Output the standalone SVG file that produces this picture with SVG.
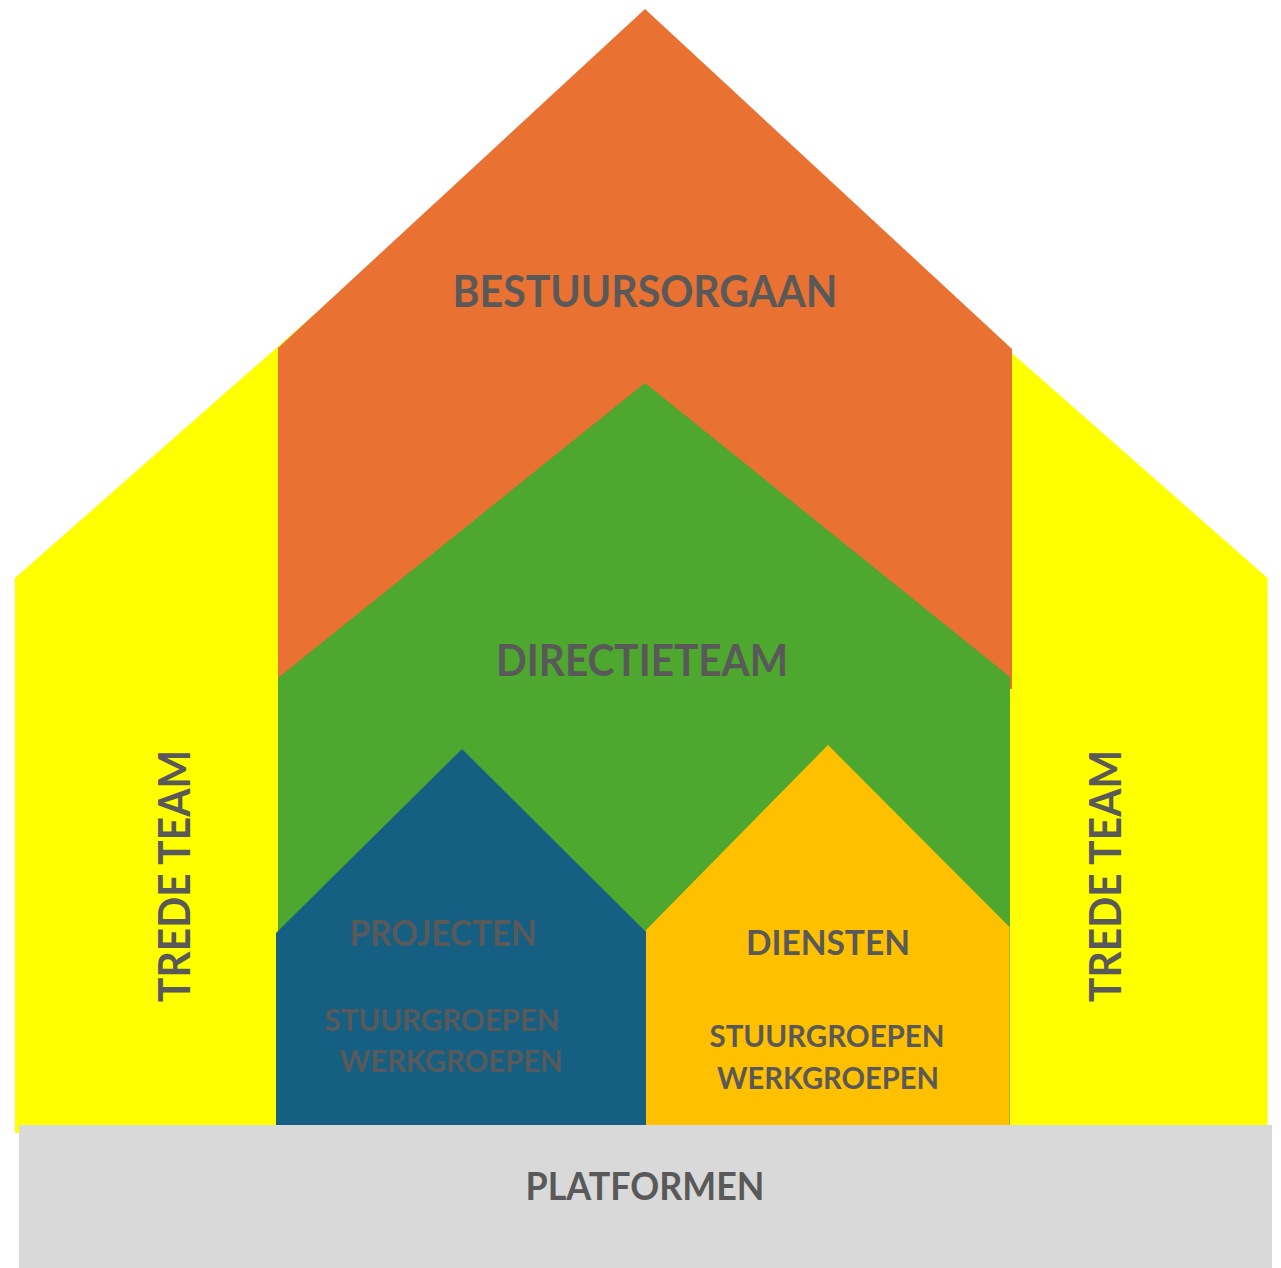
<svg xmlns="http://www.w3.org/2000/svg" width="1281" height="1268" viewBox="0 0 1281 1268">
<style>
text{font-family:Lato,"Open Sans","Liberation Sans",sans-serif;font-weight:700;fill:#595959;text-anchor:middle}
.big{font-size:43px}
.plat{font-size:39px}
.mid{font-size:36px}
.sm{font-size:31px}
.dn{font-size:34px}
</style>
<rect width="1281" height="1268" fill="#ffffff"/>
<g id="trede-team">
<polygon points="15,578 641,27 1267.5,578 1267.5,1133 15,1133" fill="#FFFF00"/>
<text class="big" transform="translate(190,876) rotate(-90)" textLength="252" lengthAdjust="spacingAndGlyphs">TREDE TEAM</text>
<text class="big" transform="translate(1121,876) rotate(-90)" textLength="252" lengthAdjust="spacingAndGlyphs">TREDE TEAM</text>
</g>
<g id="bestuursorgaan">
<polygon points="278,348 645,9 1012,349 1012,689 278,689" fill="#E97132"/>
<text class="big" x="645" y="307" textLength="385" lengthAdjust="spacingAndGlyphs">BESTUURSORGAAN</text>
</g>
<g id="directieteam">
<polygon points="278,678 645,383 1010,677 1010,1125 278,1125" fill="#4EA72E"/>
<text class="big" x="642" y="676" textLength="292" lengthAdjust="spacingAndGlyphs">DIRECTIETEAM</text>
</g>
<g id="projecten">
<polygon points="276,933 462,749 646,932 646,1125 276,1125" fill="#156082"/>
<text class="mid" x="443" y="946" textLength="187" lengthAdjust="spacingAndGlyphs">PROJECTEN</text>
<text class="sm" x="442" y="1031" textLength="235" lengthAdjust="spacingAndGlyphs">STUURGROEPEN</text>
<text class="sm" x="451" y="1072" textLength="223" lengthAdjust="spacingAndGlyphs">WERKGROEPEN</text>
</g>
<g id="diensten">
<polygon points="646,930 828,745 1009.5,927 1009.5,1125 646,1125" fill="#FFC000"/>
<text class="dn" x="828" y="955" textLength="164" lengthAdjust="spacingAndGlyphs">DIENSTEN</text>
<text class="sm" x="827" y="1047" textLength="235" lengthAdjust="spacingAndGlyphs">STUURGROEPEN</text>
<text class="sm" x="828" y="1089" textLength="222" lengthAdjust="spacingAndGlyphs">WERKGROEPEN</text>
</g>
<g id="platformen">
<rect x="19" y="1125" width="1253" height="143" fill="#D9D9D9"/>
<text class="plat" x="645" y="1200" textLength="239" lengthAdjust="spacingAndGlyphs">PLATFORMEN</text>
</g>
<g id="connectors"/>
</svg>
